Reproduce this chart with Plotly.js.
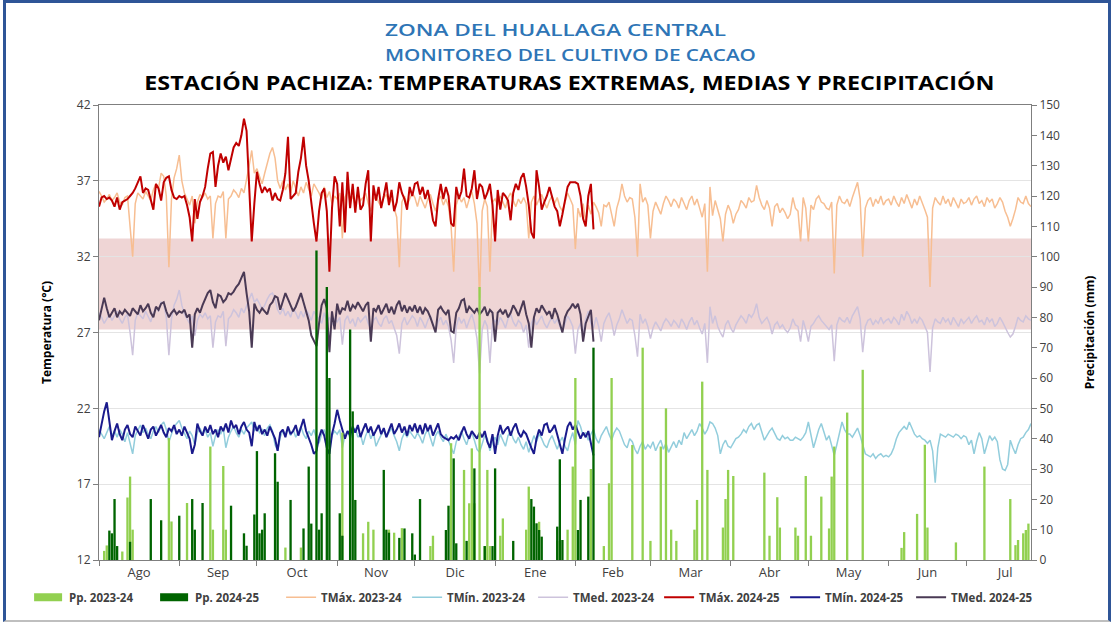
<!DOCTYPE html>
<html><head><meta charset="utf-8">
<script src="https://cdn.plot.ly/plotly-3.0.1.min.js"></script>
<style>
html,body{margin:0;padding:0;background:#fff;}
#wrap{position:relative;width:1111px;height:625px;overflow:hidden;}
#chart{width:1111px;height:625px;}
#frame{position:absolute;left:3px;top:0;width:1102px;height:617px;border:3px solid #2F5597;border-bottom:2px solid #BFBFBF;pointer-events:none;}
</style></head><body>
<div id="wrap"><div id="chart"></div><div id="frame"></div></div>
<script>
// Month labels and boundaries (days since 1 Aug)
const monthLabels = ['Ago','Sep','Oct','Nov','Dic','Ene','Feb','Mar','Abr','May','Jun','Jul'];
const monthStarts = [0,31,61,92,122,153,184,213,244,274,305,335];
const monthMids = [15.5,46,76.5,107,137.5,168.5,198.5,228.5,259,289.5,320,350];

// 2023-24 daily series (1 Aug 2023 - 26 Jul 2024)
const tmax2324 = [
36.3,36.0,35.6,35.8,36.1,35.7,35.9,36.2,35.6,35.4,35.9,36.0,34.0,32.0,35.5,36.2,36.0,35.8,36.3,36.0,35.7,36.4,36.8,36.5,37.5,37.3,36.0,31.3,35.8,37.2,37.8,
38.7,37.0,36.2,35.8,35.4,36.0,34.2,35.6,36.1,35.9,36.2,35.8,36.0,33.2,35.5,36.0,35.9,36.3,33.2,35.8,36.0,36.4,36.2,35.9,36.5,36.2,37.0,38.0,39.0,37.5,
37.8,37.3,36.8,37.5,38.2,38.8,39.2,38.5,37.0,36.5,37.0,36.4,36.8,36.2,37.0,36.5,36.0,36.6,36.2,36.9,36.4,36.0,36.8,36.5,36.2,35.8,36.6,35.9,36.3,35.5,36.0,
35.8,36.2,33.2,35.9,36.3,35.6,36.0,35.4,36.1,35.7,35.9,36.2,35.5,35.0,35.8,36.0,35.6,35.3,35.9,36.1,35.5,35.8,35.2,34.6,31.3,35.6,36.0,35.4,35.8,36.2,
35.9,35.3,36.0,35.6,35.2,35.8,36.1,35.5,35.0,35.7,36.0,35.4,35.8,35.3,34.0,31.0,35.4,36.0,35.6,35.9,35.2,35.8,36.3,35.5,34.2,29.3,35.0,35.8,35.3,31.0,35.6,
35.8,35.4,36.0,35.6,35.2,35.9,36.2,35.7,35.3,35.8,35.5,35.9,35.5,33.2,35.6,36.0,35.4,35.8,36.1,35.6,35.2,35.7,36.0,35.5,35.9,35.3,35.0,35.6,36.2,35.8,35.4,
32.5,35.2,34.6,35.5,34.3,35.4,34.8,35.6,35.3,34.9,34.0,35.4,35.3,35.6,34.8,34.0,35.2,35.8,36.8,36.0,35.6,35.9,35.8,34.6,32.0,36.8,35.6,35.9,35.4,
33.2,35.0,35.6,35.2,34.8,35.5,36.0,35.7,35.3,35.8,35.6,35.2,35.9,35.5,35.1,35.7,36.0,35.4,35.8,35.2,34.6,35.5,31.0,36.6,34.7,35.7,35.0,34.5,33.0,34.8,35.4,
35.0,34.2,34.8,35.1,35.7,35.5,35.2,35.9,35.6,35.7,36.7,35.9,35.4,35.1,35.7,35.2,34.0,35.3,35.5,34.9,35.2,34.9,34.5,34.8,35.9,35.2,35.0,33.0,35.9,35.2,
33.0,35.4,35.1,35.8,36.0,35.6,35.5,35.2,35.1,35.6,30.9,35.4,36.0,35.6,35.5,35.8,35.3,35.9,36.4,36.9,35.8,32.0,35.2,35.7,35.9,35.3,35.8,35.5,36.0,35.4,35.7,
35.8,35.4,36.0,35.6,35.3,35.9,35.5,36.1,35.7,35.2,35.8,35.4,36.0,35.6,35.1,34.6,30.0,35.2,35.9,35.6,35.4,36.0,35.5,35.8,35.3,35.9,35.6,35.2,35.8,35.5,
35.6,35.9,35.4,35.8,36.0,35.5,35.7,35.3,35.9,35.6,35.8,35.2,35.5,35.9,35.6,35.0,34.6,34.0,34.5,35.1,35.9,35.6,35.5,36.0,35.5,35.3];
const tmin2324 = [
20.6,20.3,20.0,20.4,20.8,20.2,20.5,20.1,20.6,20.3,19.8,20.4,19.6,19.0,20.2,20.6,20.9,20.4,20.7,20.3,20.0,20.5,20.8,20.4,20.9,21.1,20.6,19.8,20.3,20.8,21.0,
21.2,20.7,20.3,20.0,20.5,20.2,19.6,20.4,20.7,20.3,20.6,20.1,20.4,19.5,20.2,20.6,20.3,20.7,19.4,20.1,20.5,20.8,20.4,20.1,20.6,20.3,20.7,20.9,21.1,20.5,
20.8,20.4,20.6,20.2,20.7,20.9,20.5,19.6,19.2,20.1,20.5,20.3,20.7,20.2,20.6,20.1,20.4,20.8,20.3,20.0,20.5,20.2,20.6,20.0,19.7,20.3,20.6,20.1,19.4,20.2,20.5,
20.3,20.6,19.4,20.2,20.5,20.0,20.4,20.7,20.1,20.3,19.6,20.2,20.6,20.0,20.4,19.5,19.9,20.3,20.6,20.1,20.4,20.7,20.2,19.8,19.2,20.0,20.4,20.1,20.5,20.2,
20.0,20.4,20.1,19.7,20.3,20.6,20.0,19.5,20.2,20.5,20.1,19.8,20.3,19.9,19.4,19.0,19.8,20.2,20.5,20.0,19.6,20.2,20.4,19.9,19.3,19.1,19.7,20.2,20.0,19.2,19.8,
20.1,19.6,20.3,19.9,19.5,20.2,20.5,20.0,19.7,20.1,19.6,19.3,19.8,19.1,19.7,20.2,19.8,20.3,20.0,19.6,19.4,19.9,20.2,19.7,19.3,19.8,20.1,19.5,19.2,19.9,20.4,
19.6,21.2,20.8,20.2,20.4,19.9,20.3,20.6,20.0,19.7,20.2,20.5,20.8,20.3,19.9,20.4,20.7,20.5,20.1,19.6,19.4,20.0,19.8,19.3,19.0,19.5,19.8,19.3,19.6,
19.4,19.8,19.2,19.6,19.9,19.3,19.7,19.1,19.5,19.8,19.4,19.9,19.6,20.4,20.0,20.3,20.6,20.2,20.5,21.0,20.7,20.3,20.6,21.1,21.0,20.7,20.2,19.0,19.6,19.9,19.5,
19.4,19.7,20.0,20.1,20.3,20.6,20.4,20.8,21.0,20.6,20.9,21.0,20.4,19.9,20.2,20.5,20.7,20.3,20.0,19.9,20.2,20.0,20.1,19.9,19.9,20.1,20.0,19.9,20.1,20.4,
21.1,20.2,19.4,20.0,20.6,21.0,20.5,19.9,20.2,19.5,18.9,19.6,20.4,21.1,20.6,20.3,20.3,20.1,20.4,20.7,20.2,19.6,19.0,18.9,18.8,19.0,18.7,18.9,19.0,18.8,18.9,
18.8,19.0,19.4,20.0,20.4,20.6,20.8,20.6,21.1,20.7,20.3,20.1,20.2,20.0,19.9,19.7,19.9,19.2,17.1,19.4,20.3,20.2,20.1,20.3,20.2,20.1,20.3,20.2,20.0,20.2,
20.1,19.6,19.9,19.0,19.8,20.4,20.0,19.0,19.6,20.2,19.9,20.1,19.8,18.6,18.0,17.9,18.3,19.9,19.4,19.0,19.6,20.0,20.1,20.4,20.6,21.0];
const tmed2324 = [
28.3,28.0,27.6,27.9,28.2,27.8,28.1,28.4,27.9,27.6,28.0,28.2,27.0,25.5,27.8,28.3,28.1,27.9,28.4,28.0,27.7,28.3,28.6,28.4,29.0,28.9,28.0,25.5,27.9,28.8,29.2,
29.8,28.8,28.2,27.9,27.6,28.1,26.8,27.8,28.2,28.0,28.3,27.9,28.1,26.0,27.7,28.1,28.0,28.4,26.1,27.9,28.1,28.5,28.3,28.0,28.6,28.3,28.8,29.2,29.6,29.0,
29.2,28.9,28.5,28.8,29.2,29.5,29.6,29.2,28.5,28.2,28.6,28.1,28.4,28.0,28.6,28.3,27.9,28.4,28.0,28.5,28.2,27.8,28.4,28.1,27.9,27.6,28.3,27.7,28.0,27.5,27.9,
27.7,28.0,26.2,27.8,28.1,27.6,27.9,27.4,28.0,27.7,27.9,28.1,27.6,27.2,27.8,28.0,27.6,27.4,27.9,28.1,27.6,27.8,27.3,26.8,25.6,27.6,28.0,27.5,27.8,28.1,
27.9,27.4,28.0,27.7,27.3,27.8,28.1,27.6,27.1,27.7,28.0,27.5,27.8,27.4,26.5,25.0,27.4,28.0,27.6,27.9,27.3,27.8,28.2,27.6,26.6,24.3,27.2,27.8,27.4,25.0,27.6,
27.8,27.5,28.0,27.7,27.3,27.9,28.2,27.7,27.4,27.8,27.6,27.0,27.5,26.0,27.6,28.0,27.5,27.8,28.1,27.6,27.3,27.7,28.0,27.6,27.9,27.4,27.1,27.6,28.1,27.8,27.4,
25.6,27.2,27.6,27.0,27.9,28.4,27.6,27.3,28.0,27.4,26.4,27.6,28.0,28.3,27.7,26.8,27.5,27.9,28.5,28.1,27.6,27.9,27.8,26.8,25.4,28.2,27.6,27.9,27.4,
26.6,27.3,27.7,27.4,27.1,27.6,27.9,27.7,27.4,27.8,27.6,27.3,27.9,27.6,27.2,27.7,28.0,27.5,27.8,27.3,26.9,27.6,25.0,28.7,27.6,28.1,27.4,27.0,26.7,27.5,27.8,
27.3,27.0,27.5,27.8,28.1,27.9,27.6,28.2,28.0,28.3,28.9,28.0,27.6,27.8,28.0,27.6,26.9,27.5,27.7,27.3,27.5,27.2,27.0,27.3,27.9,27.5,27.4,26.4,27.8,27.2,
26.4,27.4,27.6,27.9,28.1,27.8,27.6,27.4,27.2,27.5,25.1,27.5,28.0,27.8,27.7,28.0,27.6,28.1,28.4,28.7,27.9,25.7,27.4,27.8,27.9,27.5,27.8,27.6,28.0,27.6,27.8,
27.9,27.6,28.0,27.8,27.5,28.2,27.8,28.4,28.1,27.6,27.9,27.6,28.0,27.8,27.4,27.0,24.4,27.3,27.9,27.7,27.6,28.0,27.7,27.9,27.5,28.0,27.7,27.4,27.9,27.6,
27.8,28.0,27.6,27.9,28.1,27.7,27.8,27.5,28.0,27.7,27.9,27.4,27.6,28.0,27.7,27.3,27.0,26.7,26.9,27.4,28.0,27.8,27.7,28.1,27.9,27.8];

// 2024-25 daily series (1 Aug 2024 - 8 Feb 2025)
const tmax2425 = [
35.3,35.9,36.0,35.8,35.9,35.7,35.3,35.9,35.1,35.6,35.7,35.8,36.0,36.2,36.5,36.9,37.3,36.2,36.5,36.4,35.8,35.1,36.8,36.5,35.7,36.9,37.2,37.3,36.4,35.9,35.8,
36.0,35.9,36.0,35.4,34.6,33.0,35.8,34.5,35.6,36.0,36.6,37.8,38.8,38.9,36.6,38.0,38.8,38.2,38.6,37.7,38.4,39.2,39.5,39.3,40.0,41.1,40.3,37.0,33.0,35.5,
37.6,36.8,36.2,36.6,36.3,36.5,35.7,36.2,35.8,35.7,36.4,37.5,39.9,35.8,36.0,36.2,37.6,38.5,39.9,38.0,37.0,35.5,34.2,33.0,35.0,36.2,36.5,35.0,31.0,35.2,37.3,
36.8,34.0,36.9,33.6,37.6,35.2,36.8,34.9,36.6,35.1,35.4,36.8,37.7,33.0,36.7,35.7,36.6,35.2,36.0,36.9,35.4,36.4,35.0,35.6,36.9,36.2,35.8,35.1,36.6,36.0,
36.8,36.9,36.1,36.6,35.8,36.4,35.5,34.4,34.0,35.8,36.8,35.8,36.6,36.0,34.2,34.0,36.6,35.8,36.3,37.8,36.0,35.9,36.5,37.7,35.8,36.8,36.6,35.8,36.2,36.8,35.4,
33.0,36.4,35.1,36.2,36.0,35.7,34.4,36.2,36.8,36.4,37.2,37.5,36.6,35.4,33.6,33.2,37.7,36.6,35.1,35.6,36.0,36.6,36.0,35.3,35.0,34.0,34.8,35.8,36.6,36.9,36.9,
36.9,36.8,36.0,34.5,34.0,36.0,36.8,33.8];
const tmin2425 = [
20.1,21.0,21.8,22.4,21.2,19.9,20.5,21.0,20.3,19.9,20.6,20.9,20.3,20.1,20.8,20.5,20.2,20.9,20.4,20.0,20.6,20.8,20.2,20.5,20.9,20.4,20.1,20.7,20.5,20.9,20.3,
20.6,20.2,20.8,20.4,20.0,19.0,19.6,21.0,20.5,20.2,20.8,20.4,20.9,20.3,20.6,20.1,20.8,20.5,21.0,20.4,21.2,20.7,20.9,20.3,20.8,21.1,20.6,20.4,19.5,21.1,
20.5,20.9,20.3,20.6,20.2,20.8,20.4,20.0,19.2,20.4,20.6,20.1,20.8,20.3,20.5,20.9,20.2,20.7,21.3,20.5,20.1,19.6,19.0,19.2,20.1,20.6,20.2,19.4,19.0,20.3,21.0,
21.9,21.2,20.6,20.0,20.5,20.2,20.8,20.4,20.9,20.1,20.6,21.0,20.4,20.8,20.2,20.5,20.9,20.3,20.7,20.1,20.5,21.0,20.3,20.6,21.0,20.4,20.8,20.2,20.9,20.5,
21.0,20.4,20.9,20.3,21.0,20.5,20.9,20.2,20.6,21.0,20.3,20.1,20.0,19.9,20.1,20.0,20.2,19.9,20.4,20.8,20.3,20.0,20.5,20.2,20.0,20.4,20.1,20.5,19.8,19.4,20.3,
19.0,20.2,20.9,20.3,20.6,20.8,20.2,20.7,21.0,20.4,20.1,20.5,20.3,19.8,19.4,19.0,20.0,20.6,20.2,20.9,21.0,20.4,20.6,20.9,20.3,19.6,19.0,20.0,20.8,21.1,20.6,
20.9,20.4,20.0,20.4,20.1,20.5,19.8,18.9];
const tmed2425 = [
27.8,28.5,29.3,28.6,28.0,28.3,28.6,28.0,28.4,28.2,28.5,28.3,28.1,28.6,28.4,28.2,28.8,28.4,28.6,28.9,28.3,28.0,28.7,28.5,28.9,29.0,28.4,28.0,28.3,28.5,28.2,
28.4,28.3,28.5,28.0,28.2,26.0,28.2,28.6,28.3,28.8,29.2,29.6,29.8,29.0,28.6,29.5,29.4,29.0,29.2,29.6,29.5,29.7,30.0,30.2,30.6,31.0,29.6,28.4,26.0,28.9,
28.5,28.3,28.6,28.4,28.2,28.8,29.0,29.4,29.3,28.5,29.0,29.6,29.2,28.8,28.4,28.7,29.2,29.6,29.0,28.4,27.8,26.8,26.4,26.1,27.6,28.8,29.2,28.6,25.7,28.4,27.2,
28.9,28.2,28.6,28.5,29.1,28.4,28.8,28.6,29.0,28.7,28.4,28.8,29.0,26.4,28.6,28.4,28.8,28.2,28.6,28.9,28.3,28.7,28.2,28.8,29.1,28.4,28.8,28.3,28.7,28.4,
28.8,28.3,28.7,28.2,28.6,28.4,28.0,27.5,27.0,28.5,28.7,28.4,28.2,28.5,27.1,27.0,28.3,28.6,29.1,29.2,28.3,28.7,28.5,28.3,28.6,28.2,28.4,28.7,28.1,28.5,28.3,
26.4,28.3,28.5,28.2,28.5,28.0,28.3,28.8,28.5,28.1,28.6,29.1,28.2,27.6,26.0,28.0,28.6,28.3,28.8,28.5,28.2,28.4,27.9,28.6,28.2,27.6,27.0,28.0,28.4,28.6,28.9,
28.6,28.9,28.2,26.4,27.6,28.0,28.5,26.4];

// Precipitation (mm) on rainy days: day since 1 Aug, amount
const ppDays2324 = [2,3,9,11,12,13,27,28,34,43,44,48,49,72,78,94,102,104,106,112,114,117,128,129,136,141,143,144,145,147,149,150,151,155,156,165,166,170,177,181,183,184,190,195,197,198,206,210,213,217,219,221,223,230,231,233,235,241,242,243,245,257,259,262,263,269,270,273,275,279,282,283,284,289,295,310,311,316,319,320,331,342,352,354,355,357,358,359];
const ppVals2324 = [3,4.8,2.8,20.6,27.5,10,40.2,12.7,18.8,37.4,10,31,10,4.1,4.1,42,8.8,12.6,10,10,9,10.5,4.6,8,38.5,29.7,18.7,36.8,18.7,90,4.6,29.7,4.6,8,13.7,10,24.2,12.6,6.3,10,30.8,60,30,4.6,25.3,60,37.9,70,6.3,37.4,50,10,6.3,10,19.8,58.8,29.7,10.7,20.1,29.7,27.7,28.8,8,20.7,10.7,10.7,8,27.7,8,20.9,10.4,27.5,37.4,48.6,62.7,4,9.2,15.2,38,10.7,5.8,30.8,20.1,4.9,6.6,8.8,9.9,12];
const ppDays2425 = [4,5,6,7,12,20,24,31,36,37,40,51,56,57,60,61,62,63,64,68,69,74,79,81,82,84,85,86,88,89,93,94,97,98,99,110,111,112,116,118,121,122,124,134,135,137,138,142,145,149,152,153,160,167,168,169,170,171,177,178,179,185,186,189,191];
const ppVals2425 = [9.7,8.8,20.1,4.6,6,20.1,13.1,14.6,20.1,10,18.8,17.9,8.8,4.7,15,35.9,8.8,10,15.4,35.2,25.8,19.8,10.4,30.8,12,102,10,15.4,90,60,15.4,8,76,49,19.8,29.7,10,9,7.3,10.4,8.8,1.8,20.1,9.9,17.9,33.5,5.5,6.3,30.2,4.6,4.6,30.2,6.3,20.1,17.6,12.1,9.9,7.7,11,33.2,6.6,9.9,19.8,20.9,70];

const idx = a => a.map((_, i) => i);

const traces = [
  {type:'bar', name:'Pp. 2023-24', x:ppDays2324, y:ppVals2324, yaxis:'y2', width:0.9, marker:{color:'#92D050'}},
  {type:'bar', name:'Pp. 2024-25', x:ppDays2425, y:ppVals2425, yaxis:'y2', width:0.9, marker:{color:'#006400'}},
  {type:'scatter', mode:'lines', name:'TMáx. 2023-24', x:idx(tmax2324), y:tmax2324, line:{color:'#F7BE92', width:1.5}},
  {type:'scatter', mode:'lines', name:'TMín. 2023-24', x:idx(tmin2324), y:tmin2324, line:{color:'#92CDDC', width:1.5}},
  {type:'scatter', mode:'lines', name:'TMed. 2023-24', x:idx(tmed2324), y:tmed2324, line:{color:'#CDC3DC', width:1.5}},
  {type:'scatter', mode:'lines', name:'TMáx. 2024-25', x:idx(tmax2425), y:tmax2425, line:{color:'#C00000', width:2}},
  {type:'scatter', mode:'lines', name:'TMín. 2024-25', x:idx(tmin2425), y:tmin2425, line:{color:'#1A1A8C', width:2}},
  {type:'scatter', mode:'lines', name:'TMed. 2024-25', x:idx(tmed2425), y:tmed2425, line:{color:'#4A3A55', width:2}}
];

const axisColor = '#7F7F7F';
const titleLengths = [341, 371, 850];
const layout = {
  width:1111, height:625,
  margin:{l:99, r:80, t:105, b:65},
  paper_bgcolor:'#FFFFFF', plot_bgcolor:'#FFFFFF',
  font:{family:'Open Sans, sans-serif', color:'#404040', size:12},
  barmode:'overlay',
  showlegend:true,
  hovermode:false,
  xaxis:{
    range:[0,360], tickmode:'array', tickvals:monthMids, ticktext:monthLabels,
    ticks:'', showgrid:false, zeroline:false, showline:true, linecolor:axisColor, linewidth:1, mirror:true,
    tickfont:{size:13, color:'#404040'}, automargin:false,
    minor:{tickmode:'array', tickvals:monthStarts, ticks:'outside', ticklen:5, tickcolor:axisColor, showgrid:false}
  },
  yaxis:{
    range:[12,42], tick0:12, dtick:5, ticks:'outside', ticklen:5, tickcolor:axisColor,
    showline:true, linecolor:axisColor, showgrid:true, gridcolor:'#E4E4E4', zeroline:false,
    tickfont:{size:12, color:'#404040'}, automargin:false,
    title:{text:'Temperatura (°C)', font:{size:12, color:'#000', weight:700}, standoff:22}
  },
  yaxis2:{
    overlaying:'y', side:'right', range:[0,150], dtick:10, ticks:'outside', ticklen:5, tickcolor:axisColor,
    showline:true, linecolor:axisColor, showgrid:false, zeroline:false,
    tickfont:{size:12, color:'#404040'}, automargin:false,
    title:{text:'Precipitación (mm)', font:{size:12, color:'#000', weight:700}, standoff:26}
  },
  legend:{orientation:'h', x:-0.075, xanchor:'left', y:-0.05, yanchor:'top',
    font:{size:11.5, color:'#404040', weight:700}, entrywidthmode:'pixels', entrywidth:81, tracegroupgap:0},
  shapes:[
    {type:'rect', xref:'paper', x0:0, x1:1, yref:'y', y0:27.2, y1:33.2, fillcolor:'#EFD5D5', line:{width:0}, layer:'below'}
  ],
  annotations:[
    {xref:'paper', yref:'paper', x:0.49, y:1.165, yanchor:'middle', showarrow:false,
     text:'ZONA DEL HUALLAGA CENTRAL', font:{size:16.5, color:'#2E75B6', weight:600}},
    {xref:'paper', yref:'paper', x:0.506, y:1.112, yanchor:'middle', showarrow:false,
     text:'MONITOREO DEL CULTIVO DE CACAO', font:{size:16.5, color:'#2E75B6', weight:600}},
    {xref:'paper', yref:'paper', x:0.505, y:1.05, yanchor:'middle', showarrow:false,
     text:'ESTACIÓN PACHIZA: TEMPERATURAS EXTREMAS, MEDIAS Y PRECIPITACIÓN', font:{size:20, color:'#000', weight:700}}
  ]
};

Plotly.newPlot('chart', traces, layout, {displayModeBar:false, staticPlot:true}).then(gd => {
  // widen the title lines like the original (horizontally stretched lettering)
  gd.querySelectorAll('g.annotation').forEach(g => {
    const i = +g.getAttribute('data-index');
    const t = g.querySelector('text.annotation-text');
    if (t && titleLengths[i]) {
      t.setAttribute('textLength', titleLengths[i]);
      t.setAttribute('lengthAdjust', 'spacingAndGlyphs');
    }
  });
  // wide rectangular swatches for the bar entries in the legend
  gd.querySelectorAll('.legend .legendpoints path').forEach(p => {
    const d = p.getAttribute('d') || '';
    if (d.indexOf('M6,6H-6V-6H6Z') === 0) p.setAttribute('d', 'M-15,4H13V-4H-15Z');
  });
});
</script></body></html>
